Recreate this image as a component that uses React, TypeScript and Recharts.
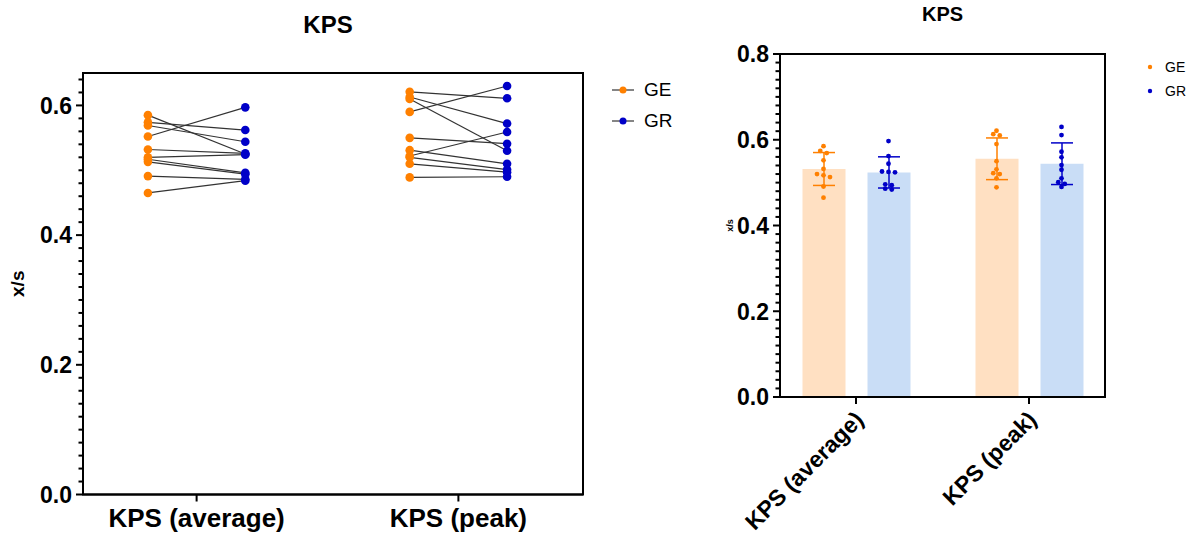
import React from 'react'
import { ComposedChart, Bar, ErrorBar, Scatter, XAxis, YAxis, Legend, ReferenceArea } from 'recharts'

const CATEGORIES = ['KPS (average)', 'KPS (peak)']
const GROUPS = ['GE', 'GR']

// paired per-subject values (same subject order in GE and GR)
const AVG_GE = [0.585, 0.574, 0.569, 0.552, 0.532, 0.52, 0.517, 0.513, 0.491, 0.465]
const AVG_GR = [0.525, 0.562, 0.544, 0.597, 0.526, 0.524, 0.496, 0.494, 0.486, 0.484]
const PEAK_GE = [0.621, 0.613, 0.61, 0.59, 0.55, 0.531, 0.522, 0.52, 0.51, 0.489]
const PEAK_GR = [0.611, 0.572, 0.53, 0.63, 0.541, 0.51, 0.559, 0.501, 0.497, 0.49]

const LEFT_Y_MAX = 0.65
const RIGHT_Y_MAX = 0.8
const MINOR_STEP = 0.02

const ORANGE = '#ff8000'
const BLUE = '#0000c8'
const ORANGE_BAR = '#ffe0c2'
const BLUE_BAR = '#c9ddf6'
const FONT = '"Liberation Sans", Arial, sans-serif'

const VALUES = [[AVG_GE, AVG_GR], [PEAK_GE, PEAK_GR]]
const COLORS = [ORANGE, BLUE]

const minorTicks = (max: number) => {
  const out: number[] = []
  for (let i = 0; i * MINOR_STEP <= max + 1e-9; i++) out.push(Math.round(i * MINOR_STEP * 100) / 100)
  return out
}
const isMajor = (v: number) => Math.abs(v * 5 - Math.round(v * 5)) < 1e-6
const mean = (a: number[]) => a.reduce((s, v) => s + v, 0) / a.length
const sd = (a: number[]) => {
  const m = mean(a)
  return Math.sqrt(a.reduce((s, v) => s + (v - m) ** 2, 0) / (a.length - 1))
}

const makeYTick = (fontSize: number) => (props: any) => {
  const { x, y, payload } = props
  const major = isMajor(payload.value)
  const len = major ? 7 : 4.5
  return (
    <g>
      <line x1={x - len} x2={x} y1={y} y2={y} stroke="#000" strokeWidth={2} />
      {major && (
        <text x={x - len - 4} y={y} dy="0.36em" textAnchor="end" fontSize={fontSize} fontWeight="bold" fontFamily={FONT} fill="#000">
          {payload.value.toFixed(1)}
        </text>
      )}
    </g>
  )
}

const NoShape = () => <g />

// ---------- left: paired dot plot ----------
const L_W = 700
const L_H = 536
const L_PAIR_OFF = 0.186
const L_X_DOMAIN = [-0.434, 1.476]

const pairLines = VALUES.flatMap(([ge, gr], ci) =>
  ge.map((v, k) => [{ x: ci - L_PAIR_OFF, y: v }, { x: ci + L_PAIR_OFF, y: gr[k] }])
)
const pairDots = GROUPS.map((_, g) =>
  VALUES.flatMap((vals, ci) => vals[g].map(v => ({ x: ci + (g === 0 ? -1 : 1) * L_PAIR_OFF, y: v })))
)

const LeftXTick = (props: any) => {
  const { x, y, payload } = props
  return (
    <g>
      <line x1={x} x2={x} y1={y} y2={y + 7} stroke="#000" strokeWidth={2} />
      <text x={x} y={y + 32} textAnchor="middle" fontSize={26} fontWeight="bold" fontFamily={FONT} fill="#000">
        {CATEGORIES[payload.value]}
      </text>
    </g>
  )
}

const LeftLegend = () => (
  <div style={{ fontFamily: FONT, fontSize: 19, color: '#000' }}>
    {GROUPS.map((g, i) => (
      <div key={g} style={{ display: 'flex', alignItems: 'center', height: 31 }}>
        <svg width={24} height={12}>
          <line x1={1} x2={23} y1={6} y2={6} stroke="#333" strokeWidth={1.2} />
          <circle cx={12} cy={6} r={3.5} fill={COLORS[i]} />
        </svg>
        <span style={{ marginLeft: 9 }}>{g}</span>
      </div>
    ))}
  </div>
)

function PairedChart() {
  return (
    <ComposedChart width={L_W} height={L_H} margin={{ top: 73, right: 117, bottom: 1.5, left: 0 }}>
      <XAxis type="number" dataKey="x" domain={L_X_DOMAIN} ticks={[0, 1]} interval={0} tick={LeftXTick}
        tickLine={false} tickSize={0} tickMargin={0} axisLine={{ stroke: '#000', strokeWidth: 2 }} height={40} allowDataOverflow />
      <YAxis type="number" domain={[0, LEFT_Y_MAX]} ticks={minorTicks(0.64)} interval={0} tick={makeYTick(23)}
        tickLine={false} tickSize={0} tickMargin={0} axisLine={{ stroke: '#000', strokeWidth: 2 }} width={83} allowDataOverflow
        label={{ value: 'x/s', angle: -90, position: 'center', dx: -24, fontSize: 19, fontWeight: 'bold', fontFamily: FONT, fill: '#000' }} />
      <ReferenceArea x1={L_X_DOMAIN[0]} x2={L_X_DOMAIN[1]} y1={0} y2={LEFT_Y_MAX} fill="none" fillOpacity={0}
        stroke="#000" strokeWidth={2} ifOverflow="visible" />
      {pairLines.map((d, i) => (
        <Scatter key={'l' + i} data={d} dataKey="y" line={{ stroke: '#333', strokeWidth: 1.2 }} shape={NoShape}
          legendType="none" isAnimationActive={false} />
      ))}
      {pairDots.map((d, g) => (
        <Scatter key={'d' + g} data={d} dataKey="y" fill={COLORS[g]} isAnimationActive={false}
          shape={(p: any) => <circle cx={p.cx} cy={p.cy} r={4.3} fill={COLORS[g]} />} />
      ))}
      <Legend content={LeftLegend} layout="horizontal" verticalAlign="middle" align="center"
        wrapperStyle={{ top: 74.5, left: 611, width: 80 }} />
    </ComposedChart>
  )
}

// ---------- right: bars with mean +/- SD and dots ----------
const R_W = 501
const R_H = 536
const R_MARGIN = { top: 54, right: 96, bottom: 9, left: 0 }
const R_YAXIS_W = 80
const R_PAD = -10.5
const BAR_SIZE = 43
const BAR_GAP = 22
const R_PLOT_W = R_W - R_YAXIS_W - R_MARGIN.right
const R_BAND = (R_PLOT_W - 2 * R_PAD) / CATEGORIES.length
const GROUP_OFF = (BAR_SIZE + BAR_GAP) / 2 / R_BAND
// numeric-axis values at the plot edges (the numeric axis spans [-0.5, 1.5] over the padded range)
const R_EDGE = [-0.5 - R_PAD / R_BAND, CATEGORIES.length - 0.5 + R_PAD / R_BAND]
const ROW_TOL = 0.008
const DOT_STEP = 6.5

const barData = CATEGORIES.map((name, ci) => ({
  name,
  ge: mean(VALUES[ci][0]),
  gr: mean(VALUES[ci][1]),
  geSd: sd(VALUES[ci][0]),
  grSd: sd(VALUES[ci][1]),
}))

// simple beeswarm: values closer than ROW_TOL share a row and are spread sideways
function swarm(vals: number[]) {
  const sorted = [...vals].sort((a, b) => b - a)
  const rows: number[][] = []
  for (const v of sorted) {
    const row = rows[rows.length - 1]
    if (row && row[0] - v < ROW_TOL) row.push(v)
    else rows.push([v])
  }
  return rows.flatMap(row => row.map((v, i) => ({ y: v, dx: (i - (row.length - 1) / 2) * DOT_STEP })))
}

const swarmDots = GROUPS.map((_, g) =>
  CATEGORIES.flatMap((_, ci) =>
    swarm(VALUES[ci][g]).map(p => ({ ...p, x: ci + (g === 0 ? -1 : 1) * GROUP_OFF }))
  )
)

const RightXTick = (props: any) => {
  const { x, y, payload } = props
  const ax = x + 9
  const ay = y + 24
  return (
    <g>
      <line x1={x} x2={x} y1={y} y2={y + 7} stroke="#000" strokeWidth={2} />
      <text x={ax} y={ay} textAnchor="end" transform={`rotate(-45 ${ax} ${ay})`} fontSize={23}
        fontWeight="bold" fontFamily={FONT} fill="#000">
        {payload.value}
      </text>
    </g>
  )
}

const RightLegend = () => (
  <div style={{ fontFamily: FONT, fontSize: 14, color: '#000' }}>
    {GROUPS.map((g, i) => (
      <div key={g} style={{ display: 'flex', alignItems: 'center', height: 24 }}>
        <svg width={8} height={8}>
          <circle cx={4} cy={4} r={2.2} fill={COLORS[i]} />
        </svg>
        <span style={{ marginLeft: 11 }}>{g}</span>
      </div>
    ))}
  </div>
)

function BarDotChart() {
  return (
    <ComposedChart width={R_W} height={R_H} data={barData} margin={R_MARGIN} barSize={BAR_SIZE} barGap={BAR_GAP}>
      <XAxis dataKey="name" type="category" padding={{ left: R_PAD, right: R_PAD }} interval={0} tick={RightXTick}
        tickLine={false} tickSize={0} tickMargin={0} axisLine={{ stroke: '#000', strokeWidth: 2 }} height={130} />
      <XAxis xAxisId="num" type="number" dataKey="x" domain={[-0.5, 1.5]} padding={{ left: R_PAD, right: R_PAD }}
        allowDataOverflow hide />
      <YAxis type="number" domain={[0, RIGHT_Y_MAX]} ticks={minorTicks(RIGHT_Y_MAX)} interval={0} tick={makeYTick(23)}
        tickLine={false} tickSize={0} tickMargin={0} axisLine={{ stroke: '#000', strokeWidth: 2 }} width={R_YAXIS_W}
        label={{ value: 'x/s', angle: -90, position: 'center', dx: -10, fontSize: 9, fontWeight: 'bold', fontFamily: FONT, fill: '#000' }} />
      <ReferenceArea xAxisId="num" x1={R_EDGE[0]} x2={R_EDGE[1]} y1={0} y2={RIGHT_Y_MAX} fill="none" fillOpacity={0}
        stroke="#000" strokeWidth={2} ifOverflow="visible" />
      <Bar dataKey="ge" fill={ORANGE_BAR} isAnimationActive={false}>
        <ErrorBar dataKey="geSd" width={11} stroke={ORANGE} strokeWidth={1.5} direction="y" />
      </Bar>
      <Bar dataKey="gr" fill={BLUE_BAR} isAnimationActive={false}>
        <ErrorBar dataKey="grSd" width={11} stroke={BLUE} strokeWidth={1.5} direction="y" />
      </Bar>
      {swarmDots.map((d, g) => (
        <Scatter key={'s' + g} xAxisId="num" data={d} dataKey="y" fill={COLORS[g]} isAnimationActive={false}
          shape={(p: any) => <circle cx={p.cx + p.payload.dx} cy={p.cy} r={2.4} fill={COLORS[g]} />} />
      ))}
      <Legend content={RightLegend} layout="horizontal" verticalAlign="middle" align="center"
        wrapperStyle={{ top: 55, left: 446, width: 50 }} />
    </ComposedChart>
  )
}

export default function App() {
  const title = { position: 'absolute' as const, fontFamily: FONT, fontWeight: 'bold' as const, textAlign: 'center' as const, color: '#000' }
  return (
    <div style={{ position: 'absolute', left: 0, top: 0, width: 1201, height: 536, background: '#fff' }}>
      <div style={{ position: 'absolute', left: 0, top: 0 }}>
        <PairedChart />
      </div>
      <div style={{ position: 'absolute', left: 700, top: 0 }}>
        <BarDotChart />
      </div>
      <div style={{ ...title, left: 78, width: 500, top: 10, fontSize: 24, lineHeight: '30px' }}>KPS</div>
      <div style={{ ...title, left: 780, width: 325, top: 1, fontSize: 20, lineHeight: '26px' }}>KPS</div>
    </div>
  )
}
